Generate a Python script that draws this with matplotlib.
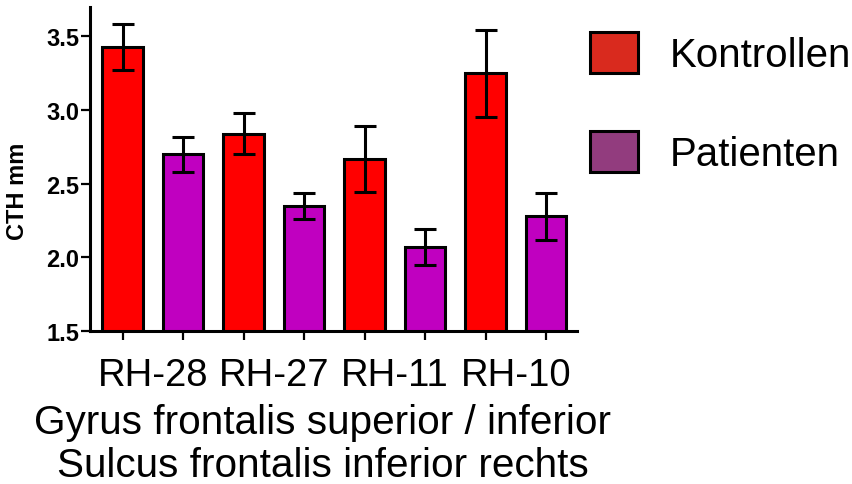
import numpy as np
import matplotlib
matplotlib.use("Agg")
import matplotlib.pyplot as plt
from matplotlib.patches import Patch

plt.rcParams['font.family'] = ['Liberation Sans', 'DejaVu Sans']

categories = ["RH-28", "RH-27", "RH-11", "RH-10"]
kontrollen = [3.43, 2.84, 2.67, 3.25]
kontrollen_err = [0.155, 0.137, 0.225, 0.295]
patienten = [2.70, 2.35, 2.07, 2.28]
patienten_err = [0.117, 0.087, 0.120, 0.160]
y_ticks = [1.5, 2.0, 2.5, 3.0, 3.5]
series_names = ["Kontrollen", "Patienten"]
line1 = "Gyrus frontalis superior / inferior"
line2 = "Sulcus frontalis inferior rechts"

W, H = 853, 485
fig = plt.figure(figsize=(W / 100, H / 100), dpi=100)
ax = fig.add_axes([90 / W, 1 - 332 / H, (577 - 90) / W, (332 - 8) / H])

n = len(categories)
xk = np.arange(n) * 2
xp = xk + 1
bw = 0.67
lw = 2.2
err_kw = dict(ecolor='black', elinewidth=lw, capsize=7.8, capthick=lw)
ax.bar(xk, kontrollen, width=bw, color='#ff0000', edgecolor='black', linewidth=lw,
       yerr=kontrollen_err, error_kw=err_kw, zorder=2)
ax.bar(xp, patienten, width=bw, color='#c000c0', edgecolor='black', linewidth=lw,
       yerr=patienten_err, error_kw=err_kw, zorder=2)

ax.set_xlim(-0.54, 7.51)
ax.set_ylim(1.5, 3.7)
ax.set_yticks(y_ticks)
ax.set_yticklabels([f"{v:.1f}" for v in y_ticks], fontsize=17, fontweight='bold')

allx = np.sort(np.concatenate([xk, xp]))
ax.set_xticks(allx)
ax.set_xticklabels([])
ax.set_xticks(xk + 0.5, minor=True)
ax.set_xticklabels(categories, minor=True, fontsize=27.5)
ax.tick_params(axis='x', which='minor', length=0, pad=19)
ax.tick_params(axis='both', which='major', length=6.5, width=1.6, pad=1)

for s in ['top', 'right']:
    ax.spines[s].set_visible(False)
for s in ['left', 'bottom']:
    ax.spines[s].set_linewidth(2.2)

fig.text(18 / W, 1 - 191 / H, "CTH mm", rotation=90, ha='center', va='center',
         fontsize=17, fontweight='bold')

fig.text(323 / W, 1 - 434 / H, line1, ha='center', va='baseline', fontsize=29.2)
fig.text(323 / W, 1 - 476.7 / H, line2, ha='center', va='baseline', fontsize=29.2)

handles = [Patch(facecolor='#d92a1e', edgecolor='black', linewidth=2.2, label=series_names[0]),
           Patch(facecolor='#923c7e', edgecolor='black', linewidth=2.2, label=series_names[1])]
fig.legend(handles=handles, loc='upper left', bbox_to_anchor=(590 / W, 1 - 33 / H),
           frameon=False, fontsize=29, handlelength=1.2, handleheight=1.2,
           handletextpad=0.78, labelspacing=1.4, borderpad=0, borderaxespad=0)

fig.savefig("out.png", dpi=100)
